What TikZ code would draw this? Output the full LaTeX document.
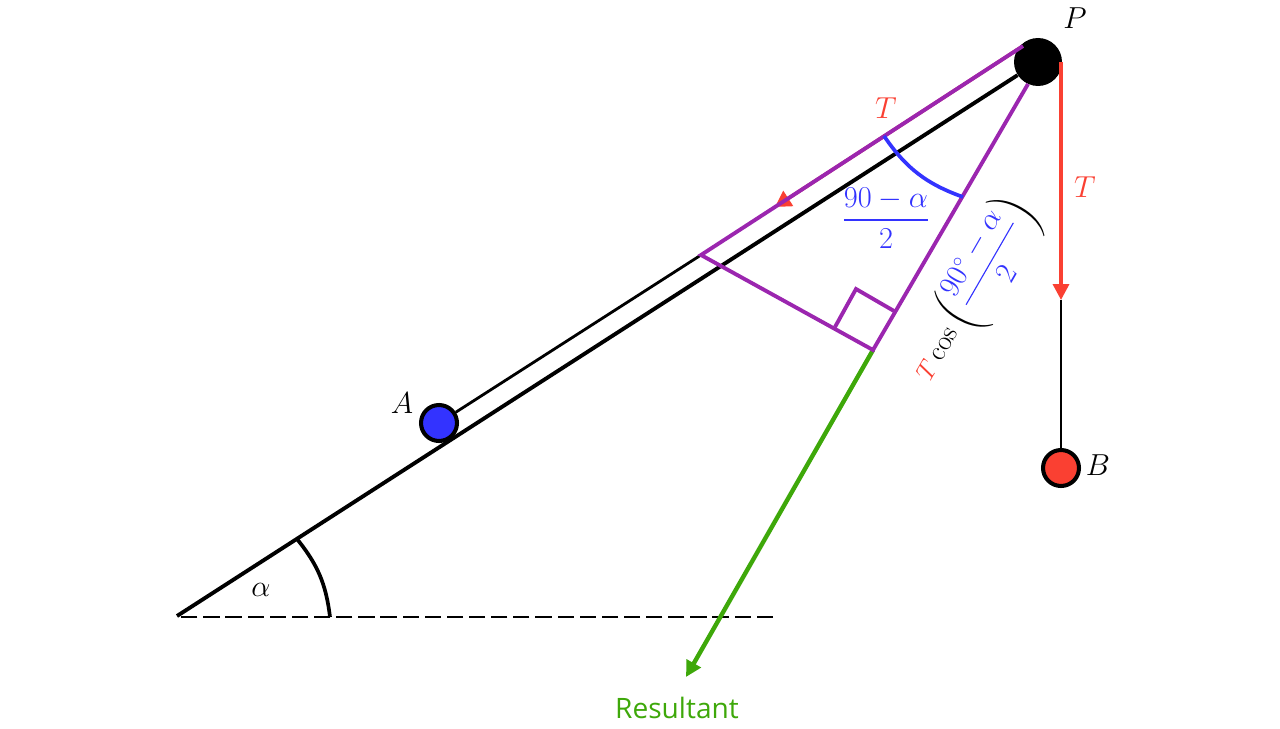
\documentclass[tikz,border=0pt]{standalone}
\usepackage{xcolor}
\usetikzlibrary{arrows.meta}
\usepackage{amssymb,amsmath}
\usepackage{fontspec}
\newfontfamily\labelfont{Open Sans}
\definecolor{ropered}{RGB}{250,64,50}
\definecolor{ballblue}{RGB}{51,51,255}
\definecolor{forcegreen}{RGB}{62,168,10}
\definecolor{geompurple}{RGB}{155,38,175}
\begin{document}
\begin{tikzpicture}[x=0.02cm,y=-0.02cm,>={Triangle[length=9pt,width=9pt]},
    every node/.style={font=\fontsize{17}{20}\selectfont},
    ball/.style={circle,draw=black,line width=2.3pt,inner sep=0pt,minimum size=0.72cm},
    ramp line/.style={black,line width=2.2pt},
    cord line/.style={black,line width=1.6pt},
    pull line/.style={ropered,line width=2pt},
    geom line/.style={geompurple,line width=2.2pt},
    angle arc/.style={line width=2.1pt}]
    \useasboundingbox (0,0) rectangle (1280,729);
    \coordinate (apex) at (177,616);
    \coordinate (flat_start) at (177,617);
    \coordinate (flat_arc) at (330,617);
    \coordinate (flat_end) at (773,617);
    \coordinate (ramp_arc) at (297,539);
    \coordinate (purple_top) at (1023,46);
    \coordinate (purple_foot) at (701,255);
    \coordinate (purple_base) at (873,350);
    \coordinate (purple_right) at (1028,84);
    \coordinate (square_a) at (835,327);
    \coordinate (square_b) at (856,289);
    \coordinate (square_c) at (894,311);
    \coordinate (t_tip) at (775,207);
    \coordinate (blue_a) at (884,136);
    \coordinate (blue_b) at (963,197);
    \coordinate (rope_top) at (1061,62);
    \coordinate (rope_tip) at (1061,300);
    \coordinate (res_tip) at (686,677);
    % lower layer
    \draw[line width=1.1pt,dash pattern=on 9.25pt off 3.35pt] (flat_end) -- (flat_start);
    \draw[->,forcegreen,line width=2.5pt] (purple_base) -- (res_tip);
    \draw[->,pull line,>={Triangle[length=9pt,width=10pt]}] (purple_top) -- (t_tip);
    \node[ball,fill=ballblue] (ball_a) at (439,423) {};
    \node[ball,fill=ropered] (ball_b) at (1061,468) {};
    \node[circle,fill=black,inner sep=0pt,minimum size=0.96cm] (ball_p) at (1038,62) {};
    \draw[ramp line] (apex) -- (ball_p);
    \draw[cord line] (ball_a) -- (purple_foot);
    \draw[->,pull line] (rope_top) -- (rope_tip);
    \draw[cord line] (rope_tip) -- (ball_b);
    \draw[angle arc,black] (ramp_arc) to[bend left=16] (flat_arc);
    \draw[geom line] (purple_top) -- (purple_foot) -- (purple_base) -- (purple_right);
    \draw[geom line] (square_a) -- (square_b) -- (square_c);
    \draw[angle arc,ballblue] (blue_a) to[bend right=18] (blue_b);
    % labels
    \node (lab_p) at (1075,18) {$P$};
    \node (lab_a) at (402,403) {$A$};
    \node (lab_b) at (1098,465) {$B$};
    \node (lab_alpha) at (261,590) {$\alpha$};
    \node[text=ropered] (lab_t1) at (886,108) {$T$};
    \node[text=ropered] (lab_t2) at (1085,187) {$T$};
    \node[text=ballblue,font=\fontsize{16.5}{20}\selectfont] (lab_frac) at (886,218) {$\dfrac{90-\alpha}{2}$};
    \node[rotate=60,font=\fontsize{16}{19}\selectfont] (lab_cos) at (974,291)
      {$\textcolor{ropered}{\scalebox{0.85}{$T$}}\cos\left(\textcolor{ballblue}{\dfrac{90^\circ-\alpha}{2}}\right)$};
    \node[text=forcegreen,font=\labelfont\fontsize{16}{19}\selectfont] (lab_res) at (677,708) {Resultant};
  \end{tikzpicture}
\end{document}
